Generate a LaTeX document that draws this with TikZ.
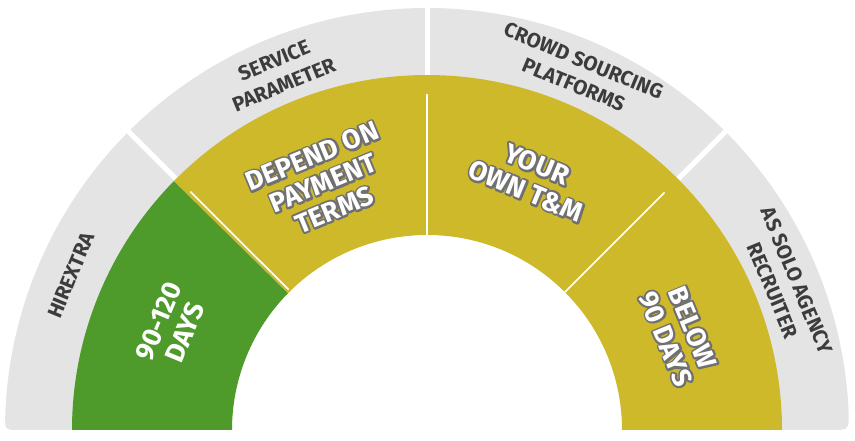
\documentclass[tikz,border=0pt]{standalone}
\usepackage{fontspec}
\setmainfont{Fira Sans}
\usetikzlibrary{calc}
\definecolor{ringgray}{HTML}{E4E4E4}
\definecolor{segGreen}{HTML}{4E9A2B}
\definecolor{segYellow}{HTML}{CDB92A}
\definecolor{lblGray}{HTML}{3C3C3C}
\newcommand\wtS[1]{\special{pdf:literal direct 2 Tr 4 w 1 j 0.44 0.44 0.44 RG 0.44 0.44 0.44 rg}#1\special{pdf:literal direct 0 Tr}}
\tikzset{
  graylbl/.style={text=lblGray, font=\bfseries\fontsize{20.5}{26}\selectfont, align=center, inner sep=0pt},
  whlbl/.style={text=white, font=\bfseries\fontsize{27}{29}\selectfont, align=center, inner sep=0pt},
  gapline/.style={white, line width=5pt},
  sepline/.style={white, line width=1.6pt}
}
\begin{document}
\begin{tikzpicture}[x=1pt,y=1pt]
\useasboundingbox[fill=white] (0,0) rectangle (855,441);
\coordinate (O) at (427,11);
% gray outer ring
\fill[ringgray] ($(O)+(180:350)$) -- ($(O)+(180:407)$) .. controls ($(O)+(180:422)$) .. ($(O)+(178:422)$)
  arc[start angle=178,end angle=135,radius=422] -- ($(O)+(135:350)$)
  arc[start angle=135,end angle=180,radius=350] -- cycle;
\fill[ringgray] ($(O)+(135:350)$) -- ($(O)+(135:422)$) arc[start angle=135,end angle=90,radius=422]
  -- ($(O)+(90:350)$) arc[start angle=90,end angle=135,radius=350] -- cycle;
\fill[ringgray] ($(O)+(90:350)$) -- ($(O)+(90:422)$) arc[start angle=90,end angle=45,radius=422]
  -- ($(O)+(45:350)$) arc[start angle=45,end angle=90,radius=350] -- cycle;
\fill[ringgray] ($(O)+(45:350)$) -- ($(O)+(45:422)$) arc[start angle=45,end angle=2.5,radius=422]
  .. controls ($(O)+(0:422)$) .. ($(O)+(0:403)$) -- ($(O)+(0:350)$)
  arc[start angle=0,end angle=45,radius=350] -- cycle;
\draw[gapline] ($(O)+(135:352)$) -- ($(O)+(135:428)$);
\draw[gapline] ($(O)+(90:352)$) -- ($(O)+(90:428)$);
\draw[gapline] ($(O)+(45:352)$) -- ($(O)+(45:428)$);
% coloured ring
\fill[segYellow] ($(O)+(135.5:195)$) -- ($(O)+(135.5:355)$) arc[start angle=135.5,end angle=0,radius=355]
  -- ($(O)+(0:195)$) arc[start angle=0,end angle=135.5,radius=195] -- cycle;
\fill[segGreen] ($(O)+(180:195)$) -- ($(O)+(180:355)$) arc[start angle=180,end angle=135.5,radius=355]
  -- ($(O)+(135.5:195)$) arc[start angle=135.5,end angle=180,radius=195] -- cycle;
\draw[sepline] ($(O)+(134.6:197)$) -- ($(O)+(134.8:336)$);
\draw[sepline] ($(O)+(90:195)$) -- ($(O)+(90:336)$);
\draw[sepline] ($(O)+(45:195)$) -- ($(O)+(45:336)$);
% gray labels
\node[graylbl, rotate=67.5] (hx) at ($(O)+(156.5:388)$) {HIREXTRA};
\node[graylbl, rotate=22.5] (sp) at ($(O)+(112.5:387)$) {SERVICE\\PARAMETER};
\node[graylbl, rotate=-22.5] (cs) at ($(O)+(67:388)$) {CROWD SOURCING\\PLATFORMS};
\node[graylbl, rotate=-67.5] (as) at ($(O)+(22:386)$) {AS SOLO AGENCY\\RECRUITER};
% coloured labels (outline underlay, then white text)
\node[whlbl, rotate=67.5] (g1) at ($(O)+(158:275)$) {90-120\\DAYS};
\node[whlbl, rotate=22.5] (y1o) at ($(O)+(112.8:268)$) {\wtS{DEPEND ON}\\\wtS{PAYMENT}\\\wtS{TERMS}};
\node[whlbl, rotate=22.5] (y1) at (y1o) {DEPEND ON\\PAYMENT\\TERMS};
\node[whlbl, rotate=-22.5] (y2o) at ($(O)+(67.5:273)$) {\wtS{YOUR}\\\wtS{OWN T\&M}};
\node[whlbl, rotate=-22.5] (y2) at (y2o) {YOUR\\OWN T\&M};
\node[whlbl, rotate=-67.5] (y3o) at ($(O)+(21:270)$) {\wtS{BELOW}\\\wtS{90 DAYS}};
\node[whlbl, rotate=-67.5] (y3) at (y3o) {BELOW\\90 DAYS};
\end{tikzpicture}
\end{document}
